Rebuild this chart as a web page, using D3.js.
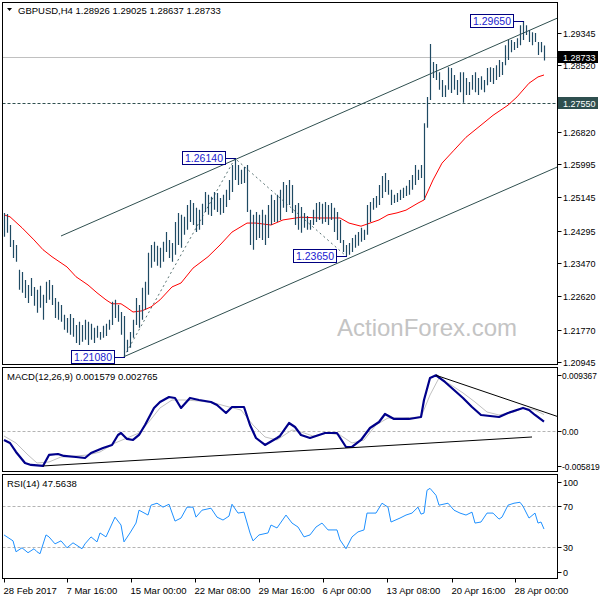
<!DOCTYPE html>
<html>
<head>
<meta charset="utf-8">
<script src="https://cdnjs.cloudflare.com/ajax/libs/d3/7.8.5/d3.min.js"></script>
<style>
body { margin: 0; background: #fff; }
svg { display: block; font-family: "Liberation Sans", Arial, sans-serif; }
</style>
</head>
<body>
<div id="chart"></div>
<script>
// GBPUSD H4 bars (high / low), one per bar index
var barHigh = [1.2475,1.2472,1.2444,1.2406,1.2393,1.2330,1.2324,1.2304,1.2291,1.2309,
  1.2286,1.2279,1.2289,1.2266,1.2299,1.2304,1.2291,1.2258,1.2248,1.2240,
  1.2215,1.2207,1.2217,1.2207,1.2189,1.2197,1.2189,1.2202,1.2197,1.2192,
  1.2182,1.2187,1.2171,1.2187,1.2192,1.2202,1.2248,1.2253,1.2240,1.2222,
  1.2212,1.2151,1.2171,1.2202,1.2258,1.2240,1.2284,1.2299,1.2373,1.2393,
  1.2401,1.2391,1.2386,1.2401,1.2426,1.2406,1.2398,1.2452,1.2475,1.2470,
  1.2465,1.2495,1.2508,1.2500,1.2488,1.2483,1.2498,1.2528,1.2521,1.2516,
  1.2528,1.2526,1.2513,1.2521,1.2534,1.2559,1.2597,1.2614,1.2597,1.2585,
  1.2592,1.2597,1.2483,1.2470,1.2477,1.2470,1.2483,1.2470,1.2495,1.2521,
  1.2508,1.2521,1.2534,1.2554,1.2546,1.2559,1.2546,1.2495,1.2500,1.2490,
  1.2475,1.2467,1.2457,1.2483,1.2500,1.2503,1.2498,1.2503,1.2495,1.2500,
  1.2488,1.2477,1.2457,1.2406,1.2393,1.2398,1.2411,1.2419,1.2426,1.2437,
  1.2432,1.2495,1.2503,1.2513,1.2518,1.2546,1.2569,1.2577,1.2559,1.2534,
  1.2521,1.2526,1.2534,1.2539,1.2544,1.2559,1.2572,1.2597,1.2585,1.2597,
  1.2704,1.2771,1.2906,1.2860,1.2855,1.2834,1.2814,1.2801,1.2847,1.2845,
  1.2827,1.2814,1.2834,1.2834,1.2819,1.2809,1.2827,1.2834,1.2819,1.2824,
  1.2814,1.2845,1.2847,1.2845,1.2852,1.2865,1.2860,1.2903,1.2916,1.2916,
  1.2911,1.2921,1.2954,1.2965,1.2954,1.2942,1.2936,1.2934,1.2911,1.2911,
  1.29025];
var barLow = [1.2414,1.2424,1.2388,1.2360,1.2350,1.2279,1.2271,1.2258,1.2245,1.2263,
  1.2238,1.2220,1.2233,1.2202,1.2245,1.2253,1.2240,1.2207,1.2202,1.2197,
  1.2177,1.2169,1.2164,1.2159,1.2143,1.2138,1.2146,1.2151,1.2138,1.2151,
  1.2143,1.2156,1.2151,1.2156,1.2161,1.2177,1.2189,1.2207,1.2197,1.2164,
  1.2108,1.2120,1.2131,1.2156,1.2189,1.2182,1.2202,1.2228,1.2266,1.2335,
  1.2350,1.2340,1.2335,1.2350,1.2375,1.2360,1.2350,1.2368,1.2393,1.2386,
  1.2419,1.2432,1.2452,1.2444,1.2426,1.2432,1.2444,1.2477,1.2470,1.2467,
  1.2483,1.2477,1.2470,1.2475,1.2490,1.2508,1.2528,1.2559,1.2546,1.2549,
  1.2551,1.2477,1.2393,1.2381,1.2406,1.2411,1.2406,1.2393,1.2411,1.2444,
  1.2452,1.2452,1.2457,1.2488,1.2477,1.2495,1.2475,1.2444,1.2432,1.2424,
  1.2437,1.2432,1.2432,1.2444,1.2452,1.2457,1.2447,1.2452,1.2444,1.2457,
  1.2426,1.2406,1.2398,1.2375,1.2365,1.2368,1.2375,1.2386,1.2391,1.2401,
  1.2406,1.2419,1.2452,1.2483,1.2488,1.2495,1.2513,1.2528,1.2521,1.2495,
  1.2500,1.2503,1.2508,1.2513,1.2518,1.2521,1.2534,1.2546,1.2559,1.2564,
  1.2508,1.2692,1.2763,1.2819,1.2814,1.2789,1.2771,1.2771,1.2789,1.2781,
  1.2789,1.2776,1.2783,1.2756,1.2776,1.2776,1.2789,1.2783,1.2776,1.2789,
  1.2783,1.2801,1.2809,1.2804,1.2814,1.2822,1.2827,1.2852,1.2865,1.2885,
  1.2891,1.2896,1.2903,1.2916,1.2929,1.2911,1.2903,1.2911,1.2878,1.2885,
  1.28637];

// moving average (red), [bar, value]
var maLine = [[0,1.2470],[2,1.2465],[6,1.2437],[10,1.2406],[13,1.2381],[16,1.2363],[21,1.2337],
  [24,1.2312],[28,1.2291],[31,1.2271],[34,1.2253],[36,1.2243],[39,1.2243],[41,1.2233],
  [43,1.2222],[46,1.2225],[49,1.2235],[52,1.2253],[56,1.2286],[59,1.2296],[63,1.2334],
  [68,1.2363],[72,1.2393],[76,1.2426],[81,1.2449],[84,1.2449],[89,1.2444],[93,1.2457],
  [99,1.2464],[105,1.2462],[112,1.2462],[115,1.2449],[119,1.2441],[122,1.2449],[125,1.2457],
  [128,1.2470],[131,1.2475],[134,1.2482],[138,1.2500],[140,1.2508],[143,1.2559],[146,1.2602],
  [150,1.2635],[154,1.2668],[159,1.2699],[163,1.2724],[168,1.2750],[171,1.2771],[175,1.2806],
  [178,1.2822],[180,1.2827]];

// MACD(12,26,9) main and signal, [bar, value]
var macdLine = [[0,-0.00151],[2,-0.00202],[4,-0.00353],[7,-0.00538],[9,-0.00571],[13,-0.00588],
  [15,-0.00403],[18,-0.00387],[20,-0.00420],[24,-0.00437],[27,-0.00454],[29,-0.00370],
  [33,-0.00286],[36,-0.00235],[38,-0.00067],[39,-0.00034],[41,-0.00134],[43,-0.00151],
  [45,-0.00067],[47,0.00101],[50,0.00387],[52,0.00487],[55,0.00571],[57,0.00555],
  [59,0.00387],[62,0.00555],[65,0.00521],[69,0.00487],[71,0.00437],[74,0.00303],
  [76,0.00403],[80,0.00403],[82,0.00101],[84,-0.00118],[87,-0.00235],[91,-0.00118],
  [92,-0.00084],[95,0.00134],[97,0.00067],[99,-0.00067],[102,-0.00118],[105,-0.00067],
  [107,-0.00034],[111,-0.00034],[114,-0.00269],[116,-0.00269],[119,-0.00151],[122,0.00050],
  [125,0.00151],[127,0.00286],[130,0.00202],[135,0.00202],[139,0.00235],[140,0.00521],
  [142,0.00891],[144,0.009367],[147,0.00824],[150,0.00689],[153,0.00555],[156,0.00403],
  [159,0.00269],[162,0.00252],[165,0.00235],[168,0.00303],[173,0.00387],[175,0.00353],
  [177,0.00269],[180,0.001579]];
var signalLine = [[0,-0.00084],[4,-0.00202],[8,-0.00403],[11,-0.00538],[15,-0.00521],
  [19,-0.00437],[24,-0.00420],[28,-0.00403],[32,-0.00353],[37,-0.00202],[41,-0.00118],
  [45,-0.00034],[48,0.00134],[52,0.00387],[56,0.00521],[60,0.00521],[65,0.00504],
  [70,0.00471],[75,0.00403],[79,0.00353],[83,0.00101],[87,-0.00101],[91,-0.00151],
  [96,0.00017],[99,-0.00017],[103,-0.00084],[108,-0.00034],[112,-0.00067],[116,-0.00202],
  [120,-0.00151],[124,0.00101],[128,0.00218],[133,0.00218],[139,0.00235],[142,0.00605],
  [145,0.00891],[149,0.00773],[153,0.00639],[157,0.00487],[161,0.00319],[165,0.00269],
  [170,0.00319],[173,0.00387],[177,0.00353],[180,0.002765]];

// RSI(14), [bar, value]
var rsiLine = [[0,41.9],[1,40.0],[3,36.2],[4,25.7],[6,29.5],[8,24.8],[10,28.6],[11,25.7],
  [12,23.8],[14,41.9],[15,40.0],[17,33.3],[19,36.2],[21,29.5],[23,34.3],[25,30.5],
  [26,28.6],[27,33.3],[29,40.0],[31,35.2],[32,43.8],[34,40.0],[37,59.0],[39,51.4],
  [40,35.2],[42,43.8],[44,53.3],[45,65.7],[48,61.0],[49,70.5],[51,72.4],[53,68.6],
  [55,71.4],[57,55.2],[59,58.1],[61,68.6],[63,68.6],[64,59.0],[66,65.7],[69,67.6],
  [71,59.0],[73,56.2],[75,60.0],[76,71.4],[78,62.9],[80,63.8],[82,43.8],[83,36.2],
  [85,41.9],[88,43.8],[89,51.4],[91,48.6],[94,61.0],[96,53.3],[98,49.5],[100,40.0],
  [102,41.9],[104,49.5],[106,53.3],[108,46.7],[111,46.7],[112,37.1],[114,28.6],[116,40.0],
  [118,44.8],[120,46.7],[121,62.9],[124,62.9],[126,72.4],[128,68.6],[129,54.3],[132,58.1],
  [134,61.0],[136,62.9],[138,68.6],[139,61.9],[140,62.9],[141,84.8],[142,86.7],[144,80.0],
  [145,70.5],[148,72.4],[150,65.7],[152,62.9],[154,61.0],[156,63.8],[157,53.3],[159,54.3],
  [161,62.9],[163,62.9],[165,57.1],[166,59.0],[168,70.5],[170,72.4],[172,73.3],[173,69.5],
  [175,58.1],[177,62.9],[178,53.3],[179,54.3],[180,47.56]];

// drawn objects
var channelUpper = [[19,1.2416],[185,1.2974]];
var channelLower = [[40,1.2108],[185,1.2594]];
var zigzag = [[40,1.2108],[77,1.2614],[114,1.2365]];
var pivots = [[40,1.2108,"1.21080"],[77,1.2614,"1.26140"],[114,1.2365,"1.23650"],[173,1.2965,"1.29650"]];
var bidPrice = 1.28733;
var supportLevel = 1.2755;
var macdSupport = [[13,-0.00588],[176,-0.00101]];
var macdResist = [[144,0.009367],[185,0.00235]];

// axes (1.27670 sits under the 1.27550 marker, so only its tick is drawn)
var priceTicks = [1.29345,1.28520,1.27670,1.26820,1.25995,1.25145,1.24295,1.23470,1.22620,1.21770,1.20945];
var hiddenTick = 1.27670;
var macdTicks = [0.009367, 0, -0.005819];
var macdTickText = ["0.009367", "0.00", "-0.005819"];
var rsiTicks = [100, 70, 30, 0];
var dateTickBar = [0, 21, 42.3, 63.7, 85, 106.3, 127.7, 149.3, 170.3];
var dateTickText = ["28 Feb 2017","7 Mar 16:00","15 Mar 00:00","22 Mar 08:00","29 Mar 16:00",
  "6 Apr 00:00","13 Apr 08:00","20 Apr 16:00","28 Apr 00:00"];

var W = 600, H = 600;
var left = 2.5, right = 557.5;
var pMain = {top: 2.5, bottom: 364.5},
    pMacd = {top: 367.5, bottom: 471.5},
    pRsi = {top: 474.5, bottom: 578.5};

var x = d3.scaleLinear().domain([0, 180]).range([4, 544]);
var yP = d3.scaleLinear().domain([1.2088, 1.3012]).range([pMain.bottom, pMain.top]);
var yM = d3.scaleLinear().domain([-0.00681, 0.01067]).range([pMacd.bottom, pMacd.top]);
var yR = d3.scaleLinear().domain([0, 100]).range([pRsi.bottom, pRsi.top]);

var svg = d3.select("#chart").append("svg")
    .attr("width", W)
    .attr("height", H);

var defs = svg.append("defs");
[["clipMain", pMain], ["clipMacd", pMacd], ["clipRsi", pRsi]].forEach(function(c) {
    defs.append("clipPath").attr("id", c[0]).append("rect")
        .attr("x", left).attr("y", c[1].top)
        .attr("width", right - left).attr("height", c[1].bottom - c[1].top);
});

svg.append("rect").attr("width", W).attr("height", H).attr("fill", "#fff");

// ---------- main panel ----------
var main = svg.append("g").attr("clip-path", "url(#clipMain)");

main.append("text")
    .attr("x", 427).attr("y", 336)
    .attr("text-anchor", "middle")
    .style("font-size", "24px")
    .attr("fill", "#c4c4c4")
    .text("ActionForex.com");

main.append("line")
    .attr("x1", left).attr("x2", right)
    .attr("y1", Math.round(yP(bidPrice)) + 0.5).attr("y2", Math.round(yP(bidPrice)) + 0.5)
    .attr("stroke", "#c0c0c0");

main.append("line")
    .attr("x1", left).attr("x2", right)
    .attr("y1", Math.round(yP(supportLevel)) + 0.5).attr("y2", Math.round(yP(supportLevel)) + 0.5)
    .attr("stroke", "#2f4f4f")
    .attr("stroke-dasharray", "3,2");

var pline = d3.line().x(function(d) { return x(d[0]); }).y(function(d) { return yP(d[1]); });

[channelUpper, channelLower].forEach(function(l) {
    main.append("path").attr("d", pline(l))
        .attr("fill", "none").attr("stroke", "#2f4f4f").attr("stroke-width", 1);
});

main.append("path").attr("d", pline(zigzag))
    .attr("fill", "none").attr("stroke", "#2f4f4f")
    .attr("stroke-width", 0.8).attr("stroke-dasharray", "2,3");

main.append("path").attr("d", pline(maLine))
    .attr("fill", "none").attr("stroke", "#ff0000").attr("stroke-width", 1);

main.selectAll(".bar")
    .data(barHigh)
    .enter().append("line")
    .attr("class", "bar")
    .attr("x1", function(d, i) { return Math.round(x(i)) + 0.5; })
    .attr("x2", function(d, i) { return Math.round(x(i)) + 0.5; })
    .attr("y1", function(d) { return yP(d); })
    .attr("y2", function(d, i) { return yP(barLow[i]); })
    .attr("stroke", "#1f4a63")
    .attr("stroke-width", 1.2);

// pivot labels
var piv = main.selectAll(".piv").data(pivots).enter().append("g");
piv.append("line")
    .attr("x1", function(d) { return x(d[0]) - 9; })
    .attr("x2", function(d) { return x(d[0]) + 1; })
    .attr("y1", function(d) { return Math.round(yP(d[1])) + 0.5; })
    .attr("y2", function(d) { return Math.round(yP(d[1])) + 0.5; })
    .attr("stroke", "#000080");
piv.append("rect")
    .attr("x", function(d) { return Math.round(x(d[0])) - 52.5; })
    .attr("y", function(d) { return Math.round(yP(d[1])) - 6.5; })
    .attr("width", 43).attr("height", 13)
    .attr("fill", "#fff").attr("stroke", "#000080");
piv.append("text")
    .attr("x", function(d) { return Math.round(x(d[0])) - 31; })
    .attr("y", function(d) { return Math.round(yP(d[1])) + 4; })
    .attr("text-anchor", "middle")
    .style("font-size", "10.5px")
    .attr("fill", "#1a1ad0")
    .text(function(d) { return d[2]; });

// ---------- MACD panel ----------
var macd = svg.append("g").attr("clip-path", "url(#clipMacd)");
var mline = d3.line().x(function(d) { return x(d[0]); }).y(function(d) { return yM(d[1]); });

macd.append("line")
    .attr("x1", left).attr("x2", right)
    .attr("y1", Math.round(yM(0)) + 0.5).attr("y2", Math.round(yM(0)) + 0.5)
    .attr("stroke", "#b4b4b4").attr("stroke-dasharray", "3,2");
macd.append("path").attr("d", mline(signalLine))
    .attr("fill", "none").attr("stroke", "#c0c0c0").attr("stroke-width", 1);
macd.append("path").attr("d", mline(macdLine))
    .attr("fill", "none").attr("stroke", "#00008b").attr("stroke-width", 2.2)
    .attr("stroke-linejoin", "round");
[macdSupport, macdResist].forEach(function(l) {
    macd.append("path").attr("d", mline(l))
        .attr("fill", "none").attr("stroke", "#000").attr("stroke-width", 1);
});

// ---------- RSI panel ----------
var rsi = svg.append("g").attr("clip-path", "url(#clipRsi)");
[70, 30].forEach(function(v) {
    rsi.append("line")
        .attr("x1", left).attr("x2", right)
        .attr("y1", Math.round(yR(v)) + 0.5).attr("y2", Math.round(yR(v)) + 0.5)
        .attr("stroke", "#b4b4b4").attr("stroke-dasharray", "3,2");
});
rsi.append("path")
    .attr("d", d3.line().x(function(d) { return x(d[0]); }).y(function(d) { return yR(d[1]); })(rsiLine))
    .attr("fill", "none").attr("stroke", "#1e90ff").attr("stroke-width", 1);

// ---------- frames ----------
[pMain, pMacd, pRsi].forEach(function(p) {
    svg.append("rect")
        .attr("x", left).attr("y", p.top)
        .attr("width", right - left).attr("height", p.bottom - p.top)
        .attr("fill", "none").attr("stroke", "#000");
});

// ---------- right axes ----------
var axisG = svg.append("g").style("font-size", "9px");
priceTicks.forEach(function(v) {
    var yy = Math.round(yP(v)) + 0.5;
    axisG.append("line").attr("x1", right).attr("x2", right + 4).attr("y1", yy).attr("y2", yy).attr("stroke", "#000");
    if (v !== hiddenTick) {
        axisG.append("text").attr("x", 563).attr("y", yy + 3.5).text(v.toFixed(5));
    }
});

[[bidPrice, "#000", "1.28733"], [supportLevel, "#2f4f4f", "1.27550"]].forEach(function(b) {
    var yy = Math.round(yP(b[0]));
    axisG.append("rect").attr("x", 558).attr("y", yy - 6).attr("width", 40).attr("height", 12).attr("fill", b[1]);
    axisG.append("text").attr("x", 563).attr("y", yy + 3.5).attr("fill", "#fff").text(b[2]);
});

macdTicks.forEach(function(v, i) {
    var yy = Math.round(yM(v)) + 0.5;
    axisG.append("line").attr("x1", right).attr("x2", right + 4).attr("y1", yy).attr("y2", yy).attr("stroke", "#000");
    axisG.append("text").attr("x", 562).attr("y", yy + 3.5)
        .style("font-size", "8.4px")
        .text(macdTickText[i]);
});

rsiTicks.forEach(function(v) {
    var yy = Math.round(yR(v)) + 0.5;
    var ty = Math.max(pRsi.top + 8, Math.min(pRsi.bottom - 6, yy));
    axisG.append("line").attr("x1", right).attr("x2", right + 4).attr("y1", ty).attr("y2", ty).attr("stroke", "#000");
    axisG.append("text").attr("x", 563).attr("y", ty + 3.5).text(v);
});

// ---------- time axis ----------
dateTickBar.forEach(function(b, i) {
    var xx = Math.max(3, Math.round(x(b))) + 0.5;
    axisG.append("line").attr("x1", xx).attr("x2", xx).attr("y1", pRsi.bottom).attr("y2", pRsi.bottom + 4).attr("stroke", "#000");
    axisG.append("text").attr("x", xx - 1).attr("y", 594).style("font-size", "9.5px").text(dateTickText[i]);
});

// ---------- panel titles ----------
svg.append("path").attr("d", "M7,8 L12,8 L9.5,11 Z").attr("fill", "#000");
svg.append("text").attr("x", 18).attr("y", 14).style("font-size", "9.5px")
    .text("GBPUSD,H4  1.28926 1.29025 1.28637 1.28733");
svg.append("text").attr("x", 7).attr("y", 380).style("font-size", "9.5px")
    .text("MACD(12,26,9) 0.001579 0.002765");
svg.append("text").attr("x", 7).attr("y", 487).style("font-size", "9.5px")
    .text("RSI(14) 47.5638");
</script>
</body>
</html>
